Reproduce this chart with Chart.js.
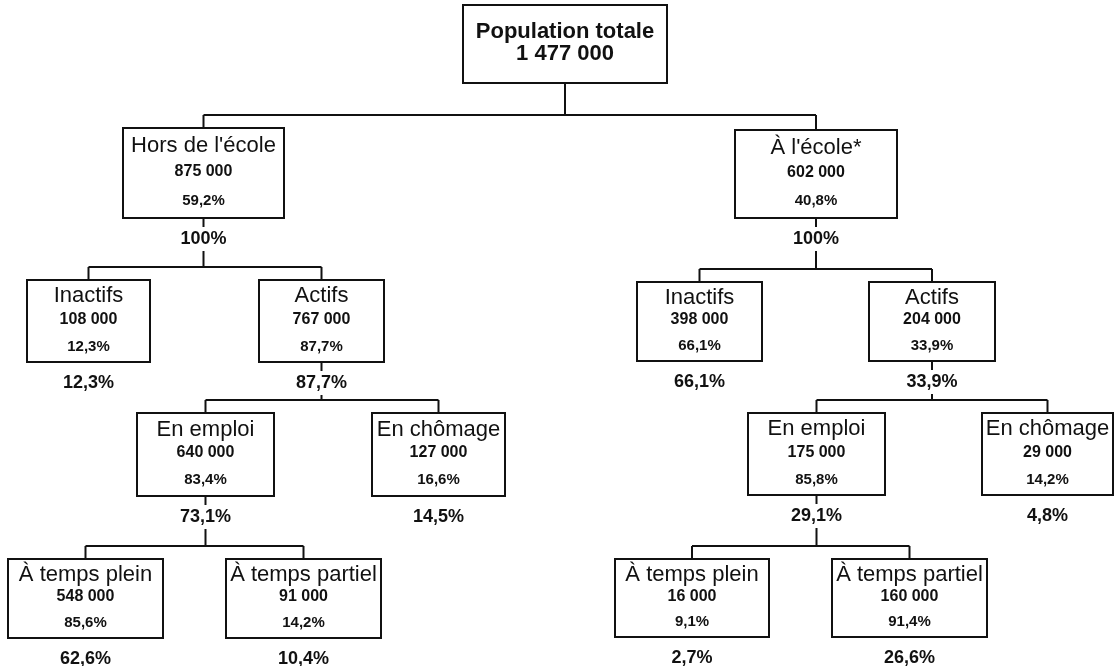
<!DOCTYPE html>
<html lang="fr">
<head>
<meta charset="utf-8">
<title>Population totale</title>
<script src="https://cdn.jsdelivr.net/npm/chart.js@4.4.1/dist/chart.umd.min.js"></script>
<style>
  html, body { margin: 0; padding: 0; background: #fff; }
  #wrap { width: 1119px; height: 666px; }
</style>
</head>
<body>
<div id="wrap"><canvas id="tree" width="1119" height="666"></canvas></div>
<script>
// tree data
const nodeLabels = ['Population totale', "Hors de l'école", "À l'école*",
  'Inactifs', 'Actifs', 'Inactifs', 'Actifs',
  'En emploi', 'En chômage', 'En emploi', 'En chômage',
  'À temps plein', 'À temps partiel', 'À temps plein', 'À temps partiel'];
const nodeCounts = [1477000, 875000, 602000, 108000, 767000, 398000, 204000,
  640000, 127000, 175000, 29000, 548000, 91000, 16000, 160000];
const shareOfParent = [null, 59.2, 40.8, 12.3, 87.7, 66.1, 33.9,
  83.4, 16.6, 85.8, 14.2, 85.6, 14.2, 9.1, 91.4];
const shareOfBranch = [null, 100, 100, 12.3, 87.7, 66.1, 33.9,
  73.1, 14.5, 29.1, 4.8, 62.6, 10.4, 2.7, 26.6];
const parentIndex = [-1, 0, 0, 1, 1, 2, 2, 4, 4, 6, 6, 7, 7, 9, 9];

// layout (scale units = page pixels)
const nodeX = [565, 203.5, 816, 88.5, 321.5, 699.5, 932, 205.5, 438.5, 816.5, 1047.5, 85.5, 303.5, 692, 909.5];
const nodeY = [44, 173, 174, 321, 321, 321.5, 321.5, 454.5, 454.5, 454, 454, 598.5, 598.5, 598, 598];
const boxW = [204, 161, 162, 123, 125, 125, 126, 137, 133, 137, 131, 155, 155, 154, 155];
const boxH = [78, 90, 88, 82, 82, 79, 79, 83, 83, 82, 82, 79, 79, 78, 78];

const FONT = '"Liberation Sans", Arial, sans-serif';
const INK = '#111';

function fmtCount(n) {
  return String(n).replace(/\B(?=(\d{3})+(?!\d))/g, ' ');
}
function fmtPct(v) {
  return (Number.isInteger(v) ? String(v) : v.toFixed(1).replace('.', ',')) + '%';
}

const treePlugin = {
  id: 'tree',
  afterDatasetsDraw(chart) {
    const ctx = chart.ctx;
    const xs = chart.scales.x, ys = chart.scales.y;
    const pts = chart.getDatasetMeta(0).data;

    const boxes = pts.map((p, i) => {
      const w = xs.getPixelForValue(boxW[i]) - xs.getPixelForValue(0);
      const h = Math.abs(ys.getPixelForValue(boxH[i]) - ys.getPixelForValue(0));
      return { cx: p.x, left: p.x - w / 2, top: p.y - h / 2, w: w, h: h, bottom: p.y + h / 2 };
    });

    ctx.save();
    ctx.strokeStyle = INK;
    ctx.lineWidth = 2;

    function line(x1, y1, x2, y2) {
      ctx.beginPath();
      ctx.moveTo(x1, y1);
      ctx.lineTo(x2, y2);
      ctx.stroke();
    }

    // connectors
    boxes.forEach((b, i) => {
      const kids = parentIndex.map((p, k) => p === i ? k : -1).filter(k => k >= 0);
      if (!kids.length) return;
      const busY = Math.min(...kids.map(k => boxes[k].top)) - 13;
      if (shareOfBranch[i] != null) {
        const ty = b.bottom + 21;
        line(b.cx, b.bottom, b.cx, ty - 12);
        line(b.cx, ty + 12, b.cx, busY);
      } else {
        line(b.cx, b.bottom, b.cx, busY);
      }
      const xsK = kids.map(k => boxes[k].cx);
      line(Math.min(...xsK), busY, Math.max(...xsK), busY);
      kids.forEach(k => line(boxes[k].cx, busY, boxes[k].cx, boxes[k].top));
    });

    // boxes and text
    ctx.textAlign = 'center';
    ctx.textBaseline = 'middle';
    boxes.forEach((b, i) => {
      ctx.fillStyle = '#fff';
      ctx.fillRect(b.left, b.top, b.w, b.h);
      ctx.strokeRect(b.left, b.top, b.w, b.h);
      ctx.fillStyle = INK;
      if (shareOfParent[i] == null) {
        ctx.font = 'bold 22px ' + FONT;
        ctx.fillText(nodeLabels[i], b.cx, b.top + b.h * 0.35);
        ctx.fillText(fmtCount(nodeCounts[i]), b.cx, b.top + b.h * 0.63);
      } else {
        ctx.font = '22px ' + FONT;
        ctx.fillText(nodeLabels[i], b.cx, b.top + b.h * 0.2);
        ctx.font = 'bold 16px ' + FONT;
        ctx.fillText(fmtCount(nodeCounts[i]), b.cx, b.top + b.h * 0.48);
        ctx.font = 'bold 15px ' + FONT;
        ctx.fillText(fmtPct(shareOfParent[i]), b.cx, b.top + b.h * 0.81);
      }
      if (shareOfBranch[i] != null) {
        ctx.font = 'bold 18px ' + FONT;
        ctx.fillText(fmtPct(shareOfBranch[i]), b.cx, b.bottom + 21);
      }
    });
    ctx.restore();
  }
};

new Chart(document.getElementById('tree'), {
  type: 'scatter',
  data: {
    datasets: [{
      label: 'Population',
      data: nodeX.map((x, i) => ({ x: x, y: nodeY[i] })),
      pointRadius: 0,
      pointHoverRadius: 0
    }]
  },
  options: {
    responsive: false,
    animation: false,
    layout: { padding: 0 },
    scales: {
      x: { type: 'linear', min: 0, max: 1119, display: false },
      y: { type: 'linear', min: 0, max: 666, reverse: true, display: false }
    },
    plugins: {
      legend: { display: false },
      tooltip: { enabled: false }
    }
  },
  plugins: [treePlugin]
});
</script>
</body>
</html>
